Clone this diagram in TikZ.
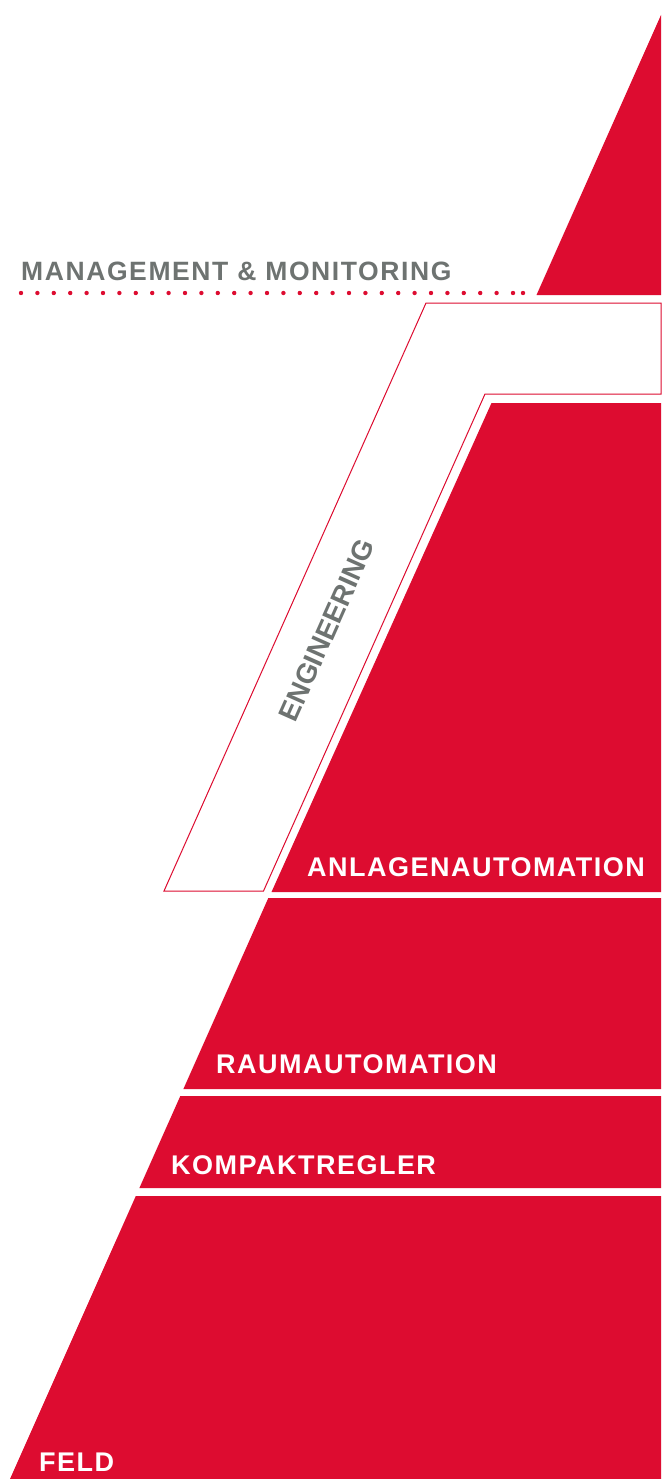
\documentclass[tikz,border=0pt]{standalone}
\usepackage{fontspec}
\setmainfont{Liberation Sans}
\definecolor{kpred}{HTML}{DD0C30}
\definecolor{kpgray}{HTML}{6E7371}
\tikzset{
  band/.style={fill=kpred, draw=none},
  engbox/.style={draw=kpred, line width=1pt, fill=white, line join=miter},
  whitelbl/.style={inner sep=0pt, anchor=base west, text=white,
    font=\fontsize{27}{27}\selectfont\bfseries\addfontfeature{LetterSpace=5.5}},
  graylbl/.style={inner sep=0pt, text=kpgray,
    font=\fontsize{26.5}{26.5}\selectfont\bfseries\addfontfeature{LetterSpace=6}},
  englbl/.style={inner sep=0pt, text=kpgray,
    font=\fontsize{28}{28}\selectfont\bfseries},
  reddot/.style={fill=kpred, draw=none}
}
\begin{document}
\begin{tikzpicture}[x=1pt,y=-1pt]
\useasboundingbox[fill=white] (0,0) rectangle (662,1479);
% top triangle
\fill[band] (661,15) -- (661,295) -- (536.5,295) -- cycle;
% dotted separator
\foreach \k in {0,...,30} {\fill[reddot] ({21+16.4*\k},293) circle (2.2);}
\fill[reddot] (523,293) circle (2.2);
\node[graylbl, anchor=base west] (mgmt) at (21,280) {MANAGEMENT \& MONITORING};
% engineering box
\draw[engbox] (426,303) -- (661,303) -- (661,394) -- (485,394) -- (263.5,891) -- (164,891) -- cycle;
\node[englbl, rotate=66] (eng) at (327,630) {ENGINEERING};
% bands
\fill[band] (491.5,403) -- (661,403) -- (661,892) -- (271.5,892) -- cycle;
\node[whitelbl] (anl) at (307,876.5) {ANLAGENAUTOMATION};
\fill[band] (268.3,898) -- (661,898) -- (661,1089) -- (183.4,1089) -- cycle;
\node[whitelbl] (raum) at (216,1073.5) {RAUMAUTOMATION};
\fill[band] (180.3,1096) -- (661,1096) -- (661,1188) -- (139.4,1188) -- cycle;
\node[whitelbl] (kompakt) at (171,1174) {KOMPAKTREGLER};
\fill[band] (135.8,1196) -- (661,1196) -- (661,1479) -- (10,1479) -- cycle;
\node[whitelbl] (feld) at (39,1471) {FELD};
\end{tikzpicture}
\end{document}
